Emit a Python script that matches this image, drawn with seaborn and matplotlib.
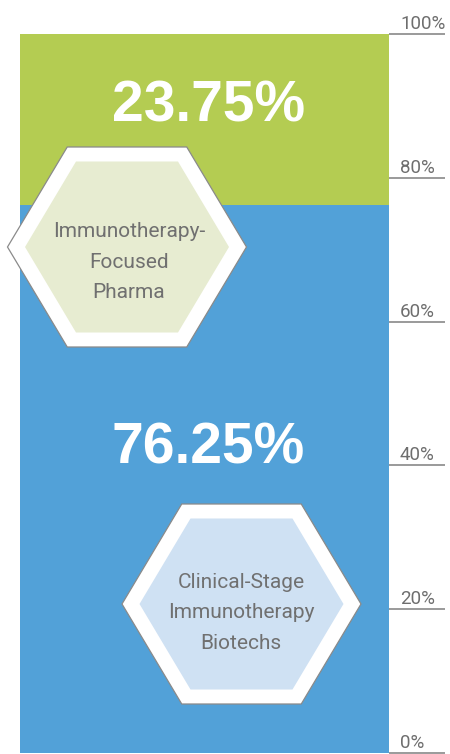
import numpy as np
import matplotlib
matplotlib.use("Agg")
import matplotlib.pyplot as plt
from matplotlib.patches import Polygon
import matplotlib.transforms as mtransforms
import pandas as pd
import seaborn as sns

# dados do grafico
segmentos = ["Clinical-Stage\nImmunotherapy\nBiotechs", "Immunotherapy-\nFocused\nPharma"]
percentuais = [76.25, 23.75]
cores = ["#52a1d8", "#b4cc52"]
cores_hex = ["#cfe1f3", "#e7ecd1"]
ticks = [0, 20, 40, 60, 80, 100]

sns.set_style("white")
plt.rcParams['font.family'] = ['Liberation Sans', 'DejaVu Sans']

fig = plt.figure(figsize=(4.5, 7.54), dpi=100)
ax = fig.add_axes([20 / 450, 1 / 754, 369 / 450, 719 / 754])

# barras empilhadas: desenha o total acumulado de cima para baixo
acumulado = np.cumsum(percentuais)
df = pd.DataFrame({"grupo": ["total"] * len(percentuais),
                   "topo": acumulado, "segmento": segmentos})
for i in reversed(range(len(percentuais))):
    sns.barplot(data=df.iloc[[i]], x="grupo", y="topo", color=cores[i],
                width=1.0, linewidth=0, saturation=1, ax=ax)

ax.set_xlim(-0.5, 0.5)
ax.set_ylim(0, 100)
ax.axis("off")

# rotulos dos percentuais
base = acumulado - np.array(percentuais)
pos_rotulo = [40.2, base[1] + 11.6]
for i, p in enumerate(percentuais):
    ax.text(0.01, pos_rotulo[i], f"{p:.2f}%", color="white", fontsize=41,
            fontweight="bold", ha="center", va="baseline",
            family=['Liberation Sans', 'DejaVu Sans'])

# eixo da direita
trans = mtransforms.blended_transform_factory(ax.transAxes, ax.transData)
for t in ticks:
    ax.plot([1.0, 1.1518], [t, t], color="#9a9a9a", lw=1.4,
            transform=trans, clip_on=False, solid_capstyle="butt")
    ax.annotate(f"{t}%", xy=(1.0298, t), xycoords=trans,
                xytext=(0, 3.6), textcoords="offset points",
                ha="left", va="baseline", fontsize=13.5, color="#6e6e6e",
                family=['Roboto', 'DejaVu Sans'],
                annotation_clip=False)

# hexagonos em coordenadas de pixel
ov = fig.add_axes([0, 0, 1, 1])
ov.set_xlim(0, 450)
ov.set_ylim(754, 0)
ov.axis("off")
ov.patch.set_alpha(0)


def hexagono(cx, cy, w, h):
    return [(cx - w, cy), (cx - w / 2, cy - h), (cx + w / 2, cy - h),
            (cx + w, cy), (cx + w / 2, cy + h), (cx - w / 2, cy + h)]


centros = [(241.5, 604), (127, 247)]
texto_x = [241, 129]
texto_y = [588, 237]
for i in range(len(segmentos)):
    cx, cy = centros[i]
    ov.add_patch(Polygon(hexagono(cx, cy, 119.5, 100), closed=True,
                         facecolor="white", edgecolor="#8a8a8a", lw=0.9))
    ov.add_patch(Polygon(hexagono(cx, cy, 102, 85.5), closed=True,
                         facecolor=cores_hex[i], edgecolor="none"))
    for k, linha in enumerate(segmentos[i].split("\n")):
        ov.text(texto_x[i], texto_y[i] + k * 30.5, linha, ha="center",
                va="baseline", fontsize=15, color="#707070",
                family=['Roboto', 'DejaVu Sans'])

fig.savefig("out.png", dpi=100)
